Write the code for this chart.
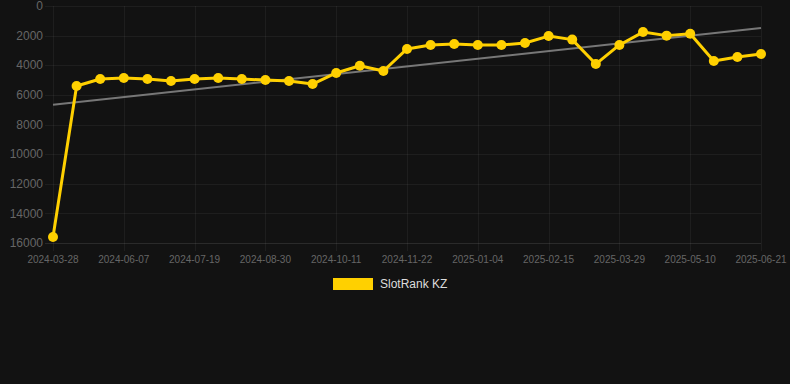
<!DOCTYPE html>
<html>
<head>
<meta charset="utf-8">
<script src="https://cdn.jsdelivr.net/npm/d3@7"></script>
<style>
  html, body { margin: 0; padding: 0; background: #121212; }
  #chart { width: 790px; height: 384px; }
  text { font-family: Arial, 'Liberation Sans', sans-serif; }
</style>
</head>
<body>
<div id="chart"></div>
<script>
// dates shown on the x axis (category axis, every 3rd label shown)
const dates = [
  '2024-03-28', '2024-05-10', '2024-05-24', '2024-06-07', '2024-06-21', '2024-07-05',
  '2024-07-19', '2024-08-02', '2024-08-16', '2024-08-30', '2024-09-13', '2024-09-27',
  '2024-10-11', '2024-10-25', '2024-11-08', '2024-11-22', '2024-12-06', '2024-12-20',
  '2025-01-04', '2025-01-18', '2025-02-01', '2025-02-15', '2025-03-01', '2025-03-15',
  '2025-03-29', '2025-04-12', '2025-04-26', '2025-05-10', '2025-05-24', '2025-06-07',
  '2025-06-21'
]

// SlotRank KZ rank values
const ranks = [
  15600, 5400, 4930, 4860, 4930, 5060,
  4930, 4860, 4930, 5000, 5060, 5270,
  4520, 4030, 4390, 2900, 2630, 2570,
  2630, 2630, 2500, 2030, 2270, 3920,
  2630, 1760, 2000, 1870, 3710, 3440,
  3240
]

const yTicks = [0, 2000, 4000, 6000, 8000, 10000, 12000, 14000, 16000]
const seriesName = 'SlotRank KZ'

const width = 790
const height = 384
const margin = { top: 6, right: 29, bottom: 141, left: 53 }

const svg = d3
  .select('#chart')
  .append('svg')
  .attr('width', width)
  .attr('height', height)

svg.append('rect').attr('width', width).attr('height', height).attr('fill', '#121212')

const x = d3
  .scalePoint()
  .domain(dates)
  .range([margin.left, width - margin.right])

const y = d3
  .scaleLinear()
  .domain([0, 16000])
  .range([margin.top, height - margin.bottom])

const gridColor = 'rgba(255,255,255,0.05)'

// horizontal grid + y labels
const yg = svg.append('g')
yg.selectAll('line')
  .data(yTicks)
  .enter()
  .append('line')
  .attr('x1', margin.left - 8)
  .attr('x2', width - margin.right)
  .attr('y1', d => Math.round(y(d)) + 0.5)
  .attr('y2', d => Math.round(y(d)) + 0.5)
  .attr('stroke', d => (d === 16000 ? 'rgba(255,255,255,0.1)' : gridColor))
yg.selectAll('text')
  .data(yTicks)
  .enter()
  .append('text')
  .attr('x', margin.left - 10)
  .attr('y', d => y(d))
  .attr('dy', '0.35em')
  .attr('text-anchor', 'end')
  .attr('font-size', 12)
  .attr('fill', '#666')
  .text(d => d)

// vertical grid + x labels (every 3rd category)
const shown = dates.filter((d, i) => i % 3 === 0)
const xg = svg.append('g')
xg.selectAll('line')
  .data(shown)
  .enter()
  .append('line')
  .attr('x1', d => Math.round(x(d)) + 0.5)
  .attr('x2', d => Math.round(x(d)) + 0.5)
  .attr('y1', margin.top)
  .attr('y2', height - margin.bottom + 8)
  .attr('stroke', gridColor)
xg.selectAll('text')
  .data(shown)
  .enter()
  .append('text')
  .attr('x', d => x(d))
  .attr('y', height - margin.bottom + 16)
  .attr('dy', '0.35em')
  .attr('text-anchor', 'middle')
  .attr('font-size', 10)
  .attr('fill', '#666')
  .text(d => d)

// linear trend line (least squares over index)
const n = ranks.length
const mx = d3.mean(ranks, (d, i) => i)
const my = d3.mean(ranks)
const slope =
  d3.sum(ranks, (d, i) => (i - mx) * (d - my)) / d3.sum(ranks, (d, i) => (i - mx) * (i - mx))
const intercept = my - slope * mx
svg
  .append('line')
  .attr('x1', x(dates[0]))
  .attr('y1', y(intercept))
  .attr('x2', x(dates[n - 1]))
  .attr('y2', y(intercept + slope * (n - 1)))
  .attr('stroke', '#777')
  .attr('stroke-width', 2)

// series line
const line = d3
  .line()
  .x((d, i) => x(dates[i]))
  .y(d => y(d))

svg
  .append('path')
  .datum(ranks)
  .attr('d', line)
  .attr('fill', 'none')
  .attr('stroke', '#ffd000')
  .attr('stroke-width', 3)
  .attr('stroke-linejoin', 'round')

svg
  .append('g')
  .selectAll('circle')
  .data(ranks)
  .enter()
  .append('circle')
  .attr('cx', (d, i) => x(dates[i]))
  .attr('cy', d => y(d))
  .attr('r', 5)
  .attr('fill', '#ffd000')

// legend
const legend = svg.append('g').attr('transform', 'translate(333,278)')
legend
  .append('rect')
  .attr('width', 40)
  .attr('height', 12)
  .attr('fill', '#ffd000')
legend
  .append('text')
  .attr('x', 47)
  .attr('y', 6)
  .attr('dy', '0.35em')
  .attr('font-size', 12)
  .attr('fill', '#ddd')
  .text(seriesName)
</script>
</body>
</html>
